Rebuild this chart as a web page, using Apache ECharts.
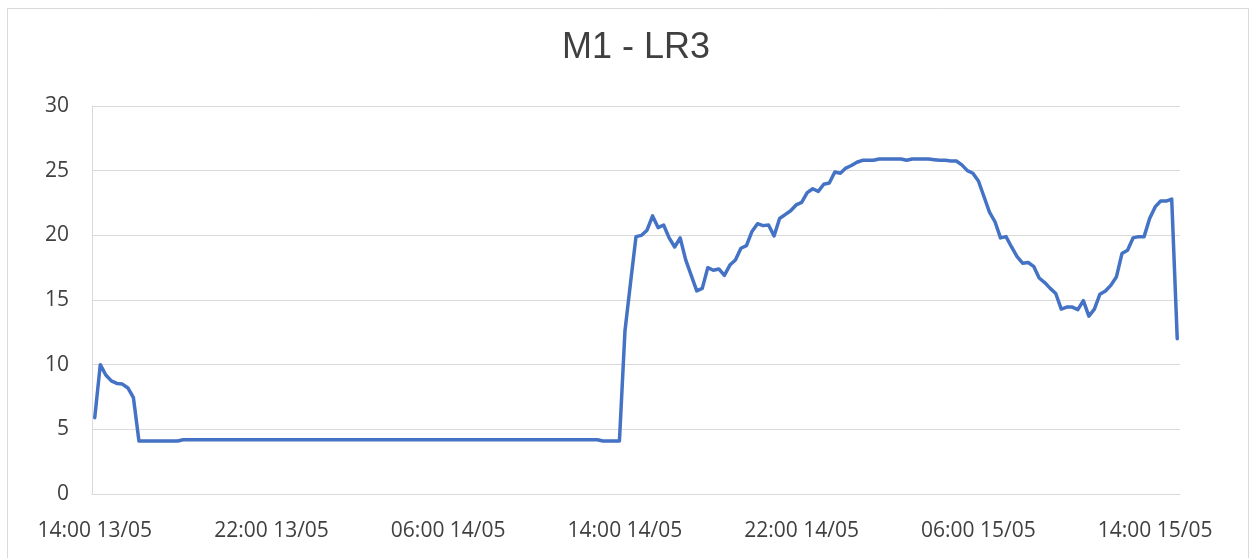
<!DOCTYPE html>
<html>
<head>
<meta charset="utf-8">
<title>M1 - LR3</title>
<script src="https://cdn.jsdelivr.net/npm/echarts@6/dist/echarts.min.js"></script>
<style>
    html, body {
        margin: 0;
        padding: 0;
        background: #fff;
    }
    #chart_lr3 {
        width: 1254px;
        height: 558px;
    }
</style>
</head>
<body>
<div id="chart_lr3"></div>
<script>
// 15-minute readings, starting 14:00 13/05
const startTime = new Date(2000, 4, 13, 14, 0);
const stepMinutes = 15;

const lr3Values = [
    // 14:00 13/05 -> 22:00 13/05
    5.9, 10.0, 9.2, 8.75, 8.55, 8.5, 8.2, 7.45,
    4.1, 4.1, 4.1, 4.1, 4.1, 4.1, 4.1, 4.1,
    4.2, 4.2, 4.2, 4.2, 4.2, 4.2, 4.2, 4.2,
    4.2, 4.2, 4.2, 4.2, 4.2, 4.2, 4.2, 4.2,
    // 22:00 13/05 -> 06:00 14/05
    4.2, 4.2, 4.2, 4.2, 4.2, 4.2, 4.2, 4.2,
    4.2, 4.2, 4.2, 4.2, 4.2, 4.2, 4.2, 4.2,
    4.2, 4.2, 4.2, 4.2, 4.2, 4.2, 4.2, 4.2,
    4.2, 4.2, 4.2, 4.2, 4.2, 4.2, 4.2, 4.2,
    // 06:00 14/05 -> 14:00 14/05
    4.2, 4.2, 4.2, 4.2, 4.2, 4.2, 4.2, 4.2,
    4.2, 4.2, 4.2, 4.2, 4.2, 4.2, 4.2, 4.2,
    4.2, 4.2, 4.2, 4.2, 4.2, 4.2, 4.2, 4.2,
    4.2, 4.2, 4.2, 4.2, 4.1, 4.1, 4.1, 4.1,
    // 14:00 14/05 -> 22:00 14/05
    12.6, 16.3, 19.9, 20.0, 20.4, 21.5, 20.6, 20.8,
    19.8, 19.1, 19.8, 18.1, 16.9, 15.7, 15.9, 17.5,
    17.3, 17.4, 16.9, 17.7, 18.1, 19.0, 19.2, 20.3,
    20.9, 20.75, 20.8, 19.95, 21.3, 21.6, 21.9, 22.35,
    // 22:00 14/05 -> 06:00 15/05
    22.55, 23.3, 23.6, 23.4, 23.95, 24.05, 24.9, 24.8,
    25.2, 25.4, 25.65, 25.8, 25.8, 25.8, 25.9, 25.9,
    25.9, 25.9, 25.9, 25.8, 25.9, 25.9, 25.9, 25.9,
    25.85, 25.8, 25.8, 25.75, 25.75, 25.45, 25.0, 24.8,
    // 06:00 15/05 -> 14:00 15/05
    24.2, 23.0, 21.8, 21.05, 19.8, 19.9, 19.1, 18.35,
    17.85, 17.9, 17.6, 16.7, 16.35, 15.9, 15.5, 14.3,
    14.45, 14.45, 14.25, 14.95, 13.75, 14.3, 15.45, 15.7,
    16.15, 16.8, 18.6, 18.85, 19.8, 19.9, 19.9, 21.3,
    // 14:00 15/05 ->
    22.2, 22.65, 22.65, 22.8, 12.0
];

const yTicks = { min: 0, max: 30, interval: 5 };

function pad(n) {
    return (n < 10 ? "0" : "") + n;
}

// category labels "HH:MM DD/MM"
let timeLabels = [];
lr3Values.forEach((v, index) => {
    let t = new Date(startTime.getTime() + index * stepMinutes * 60000);
    timeLabels.push(`${pad(t.getHours())}:${pad(t.getMinutes())} ${pad(t.getDate())}/${pad(t.getMonth() + 1)}`);
});

const labelFont = "'Open Sans', 'DejaVu Sans', sans-serif";
const textColor = "#404040";

let option = {
    animation: false,
    backgroundColor: "#fff",
    title: {
        text: "M1 - LR3",
        left: 631,
        top: 25,
        textAlign: "center",
        textStyle: {
            fontFamily: "'Liberation Sans', Arial, sans-serif",
            fontSize: 36,
            fontWeight: "normal",
            color: textColor,
        },
    },
    graphic: [
        {
            // chart area border
            type: "rect",
            shape: { x: 7.5, y: 8.5, width: 1241, height: 570 },
            style: { fill: "none", stroke: "#d9d9d9", lineWidth: 1 },
            silent: true,
        },
    ],
    grid: {
        left: 92,
        right: 74,
        top: 106,
        bottom: 64,
        containLabel: false,
        outerBoundsMode: "none",
    },
    xAxis: {
        type: "category",
        boundaryGap: true,
        data: timeLabels,
        axisLine: {
            show: true,
            lineStyle: { color: "#d9d9d9", width: 1 },
        },
        axisTick: { show: false },
        splitLine: { show: false },
        axisLabel: {
            interval: 31,
            margin: 27,
            color: textColor,
            fontSize: 21,
            fontFamily: labelFont,
        },
    },
    yAxis: {
        type: "value",
        min: yTicks.min,
        max: yTicks.max,
        interval: yTicks.interval,
        axisLine: {
            show: true,
            lineStyle: { color: "#d9d9d9", width: 1 },
        },
        axisTick: { show: false },
        splitLine: {
            show: true,
            lineStyle: { color: "#d9d9d9", width: 1 },
        },
        axisLabel: {
            margin: 23,
            color: textColor,
            fontSize: 21,
            fontFamily: labelFont,
        },
    },
    series: [
        {
            name: "M1 - LR3",
            type: "line",
            data: lr3Values,
            showSymbol: false,
            smooth: false,
            lineStyle: {
                color: "#4472C4",
                width: 3.5,
                join: "round",
                cap: "round",
            },
            itemStyle: { color: "#4472C4" },
        },
    ],
};

let myChart = echarts.init(document.getElementById("chart_lr3"));
myChart.setOption(option);
</script>
</body>
</html>
